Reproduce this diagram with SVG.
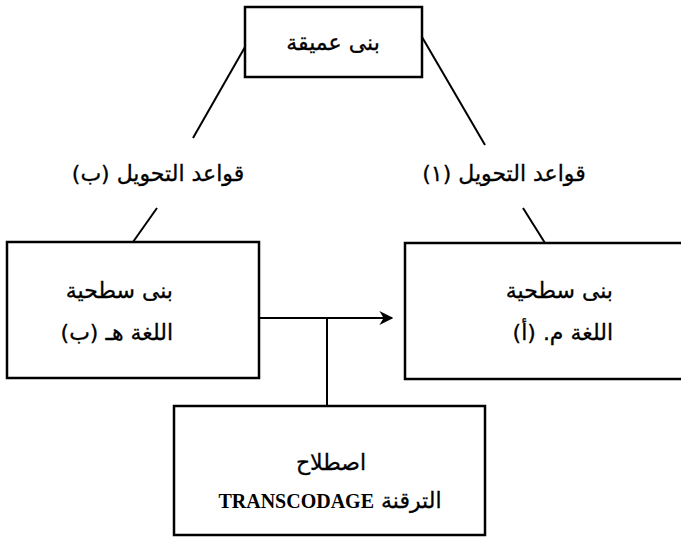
<svg xmlns="http://www.w3.org/2000/svg" width="681" height="538" viewBox="0 0 681 538">
<style>
.box{fill:#fff;stroke:#000;stroke-width:2.5}
.ln{fill:none;stroke:#000;stroke-width:2}
.ar{font-family:"DejaVu Sans","Noto Sans",sans-serif;font-size:22px;fill:#000;stroke:#000;stroke-width:0.3}
.lat{font-family:"Liberation Serif",serif;font-size:20px;font-weight:bold;fill:#000}
</style>
<defs>
<marker id="ah" viewBox="0 0 10 10" refX="9" refY="5" markerWidth="14" markerHeight="14" markerUnits="userSpaceOnUse" orient="auto">
<path d="M0,0 L10,5 L0,10 L3,5 Z" fill="#000"/>
</marker>
</defs>
<g id="connectors">
<line class="ln" x1="245" y1="47" x2="193" y2="138"/>
<line class="ln" x1="422" y1="37" x2="485" y2="145"/>
<line class="ln" x1="157" y1="208" x2="133" y2="242"/>
<line class="ln" x1="523" y1="208" x2="545" y2="243"/>
<line class="ln" x1="259" y1="318" x2="392" y2="318" marker-end="url(#ah)"/>
<line class="ln" x1="327" y1="318" x2="327" y2="406"/>
</g>
<g id="deep">
<rect class="box" x="245" y="7" width="177" height="70"/>
<text class="ar" x="333" y="50" text-anchor="middle" direction="rtl">بنى عميقة</text>
</g>
<g id="rule-b">
<text class="ar" x="158" y="181" text-anchor="middle" direction="rtl">قواعد التحويل (ب)</text>
</g>
<g id="rule-a">
<text class="ar" x="504" y="181" text-anchor="middle" direction="rtl">قواعد التحويل (١)</text>
</g>
<g id="surface-b">
<rect class="box" x="7" y="242" width="252" height="136"/>
<text class="ar" x="173" y="298" text-anchor="start" direction="rtl">بنى سطحية</text>
<text class="ar" x="173" y="340" text-anchor="start" direction="rtl">اللغة هـ (ب)</text>
</g>
<g id="surface-a">
<rect class="box" x="405" y="243" width="290" height="136"/>
<text class="ar" x="613" y="298" text-anchor="start" direction="rtl">بنى سطحية</text>
<text class="ar" x="613" y="340" text-anchor="start" direction="rtl">اللغة م. (أ)</text>
</g>
<g id="transcoding">
<rect class="box" x="174" y="406" width="311" height="129"/>
<text class="ar" x="331" y="470" text-anchor="middle" direction="rtl">اصطلاح</text>
<text x="330" y="508" text-anchor="middle" direction="rtl"><tspan class="ar">الترقنة </tspan><tspan class="lat">TRANSCODAGE</tspan></text>
</g>
</svg>
